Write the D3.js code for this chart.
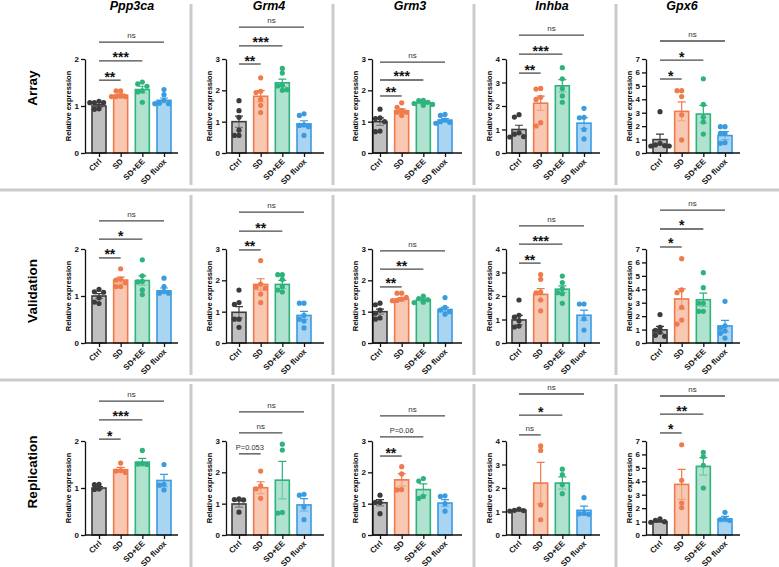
<!DOCTYPE html>
<html>
<head>
<meta charset="utf-8">
<script src="https://cdn.jsdelivr.net/npm/d3@7"></script>
<style>
  body { margin: 0; background: #fff; }
  svg { display: block; font-family: "Liberation Sans", Arial, sans-serif; }
</style>
</head>
<body>
<svg id="chart" width="779" height="567"></svg>
<script>
'use strict';
// categories
const genes = ['Ppp3ca', 'Grm4', 'Grm3', 'Inhba', 'Gpx6'];
const groups = ['Ctrl', 'SD', 'SD+EE', 'SD fluox'];
const rowNames = ['Array', 'Validation', 'Replication'];
const yMax = [2, 3, 3, 4, 7];

// Array row: means, sem, points, stars, bracket levels (data units)
const arrayMean = [[1.0, 1.23, 1.35, 1.12], [1.0, 1.81, 2.24, 0.93], [1.0, 1.35, 1.6, 1.05], [1.0, 2.12, 2.86, 1.27], [1.0, 3.1, 2.9, 1.3]];
const arraySem = [[0.03, 0.03, 0.07, 0.05], [0.18, 0.18, 0.12, 0.1], [0.12, 0.06, 0.03, 0.05], [0.18, 0.3, 0.26, 0.23], [0.4, 0.7, 0.65, 0.3]];
const arrayDots = [
  [[1.1, 1.07, 1.07, 1.07, 0.94, 0.93], [1.32, 1.32, 1.2, 1.2, 1.2, 1.21], [1.51, 1.47, 1.42, 1.32, 1.3, 1.08], [1.35, 1.24, 1.12, 1.06, 1.05, 1.05]],
  [[1.67, 1.35, 1.14, 0.73, 0.56, 0.56], [2.4, 1.97, 1.93, 1.71, 1.52, 1.29], [2.7, 2.55, 2.16, 2.14, 2.02, 2.0], [1.25, 1.2, 0.9, 0.88, 0.84, 0.56]],
  [[1.4, 1.12, 1.1, 1.0, 0.7, 0.68], [1.6, 1.46, 1.35, 1.3, 1.3, 1.2], [1.68, 1.67, 1.62, 1.58, 1.55, 1.52], [1.23, 1.2, 1.05, 1.0, 0.98, 0.95]],
  [[1.63, 1.53, 0.86, 0.8, 0.7, 0.68], [2.75, 2.72, 2.37, 2.28, 1.29, 1.15], [3.63, 3.16, 2.74, 2.43, 2.16], [1.9, 1.52, 1.5, 1.0, 0.6]],
  [[3.08, 0.72, 0.6, 0.55, 0.52, 0.52], [4.64, 4.64, 4.2, 2.85, 0.97], [5.53, 3.62, 2.66, 2.31, 1.41], [1.96, 1.96, 1.47, 1.47, 0.77, 0.72]]
];
const arrayStars = [['**', '***', 'ns'], ['**', '***', 'ns'], ['**', '***', 'ns'], ['**', '***', 'ns'], ['*', '*', 'ns']];
const arrayLevels = [[1.55, 1.96, 2.36], [2.84, 3.42, 4.02], [1.82, 2.33, 2.9], [3.4, 4.21, 5.02], [5.51, 6.92, 8.34]];

// Validation row
const validationMean = [[1.0, 1.34, 1.33, 1.11], [0.98, 1.87, 1.87, 0.88], [1.0, 1.4, 1.38, 1.07], [0.98, 2.07, 2.29, 1.18], [0.98, 3.28, 3.22, 1.27]];
const validationSem = [[0.05, 0.06, 0.1, 0.06], [0.18, 0.18, 0.13, 0.13], [0.08, 0.05, 0.05, 0.07], [0.2, 0.24, 0.14, 0.22], [0.26, 0.75, 0.5, 0.42]];
const validationDots = [
  [[1.14, 1.09, 1.08, 0.96, 0.87, 0.84], [1.58, 1.36, 1.34, 1.28, 1.2, 1.2], [1.77, 1.43, 1.31, 1.3, 1.13, 1.03], [1.38, 1.2, 1.1, 1.06, 1.06]],
  [[1.69, 1.29, 1.23, 0.76, 0.76, 0.5], [2.63, 1.88, 1.78, 1.75, 1.56, 1.29], [2.18, 2.18, 2.03, 1.8, 1.69, 1.63], [1.27, 1.27, 0.88, 0.76, 0.7, 0.48]],
  [[1.27, 1.22, 1.05, 0.95, 0.8, 0.76], [1.59, 1.59, 1.46, 1.4, 1.36, 1.35], [1.5, 1.42, 1.38, 1.3, 1.29], [1.45, 1.14, 1.05, 1.0, 0.92]],
  [[1.83, 1.18, 1.1, 0.95, 0.72, 0.68], [2.91, 2.71, 2.17, 2.13, 1.83, 1.37], [2.85, 2.57, 2.31, 2.14, 2.1, 1.69], [1.66, 1.66, 1.03, 0.55]],
  [[2.12, 1.17, 0.95, 0.8, 0.57, 0.5], [6.28, 3.95, 3.75, 2.66, 1.71, 1.41], [5.24, 4.12, 2.96, 2.96, 2.36, 2.36], [3.1, 1.27, 1.1, 0.9, 0.72, 0.37]]
];
const validationStars = [['**', '*', 'ns'], ['**', '**', 'ns'], ['**', '**', 'ns'], ['**', '***', 'ns'], ['*', '*', 'ns']];
const validationLevels = [[1.81, 2.21, 2.6], [2.97, 3.57, 4.18], [1.79, 2.36, 2.94], [3.4, 4.21, 4.98], [7.15, 8.49, 9.9]];

// Replication row
const replicationMean = [[1.0, 1.39, 1.55, 1.16], [0.99, 1.51, 1.75, 0.96], [1.03, 1.76, 1.45, 1.02], [1.05, 2.21, 2.21, 1.05], [0.99, 3.77, 5.11, 1.19]];
const replicationSem = [[0.03, 0.05, 0.08, 0.13], [0.1, 0.19, 0.6, 0.2], [0.1, 0.2, 0.18, 0.11], [0.04, 0.88, 0.26, 0.18], [0.06, 1.12, 0.65, 0.2]];
const replicationDots = [
  [[1.08, 1.07, 0.98, 0.97], [1.53, 1.37, 1.36, 1.33], [1.8, 1.52, 1.51, 1.5], [1.5, 1.08, 1.06, 0.96]],
  [[1.15, 1.13, 1.12, 0.73], [2.04, 1.57, 1.47, 1.17], [2.9, 2.71, 0.72, 0.7], [1.3, 1.27, 0.89, 0.49]],
  [[1.27, 1.04, 1.04, 0.68], [2.18, 1.95, 1.45, 1.44], [1.8, 1.72, 1.23, 1.17], [1.25, 1.23, 1.0, 0.76]],
  [[1.1, 1.05, 1.04, 1.02], [3.79, 3.6, 1.28, 0.65], [2.8, 2.57, 2.14, 1.76], [1.59, 0.92, 0.9, 0.88]],
  [[1.21, 1.1, 0.99, 0.95], [6.72, 4.07, 2.38, 2.03], [6.16, 5.83, 5.19, 3.5], [1.69, 1.2, 1.15, 1.09]]
];
const replicationStars = [['*', '***', 'ns'], ['P=0.053', 'ns', 'ns'], ['**', 'P=0.06', 'ns'], ['ns', '*', 'ns'], ['*', '**', 'ns']];
const replicationLevels = [[2.04, 2.45, 2.85], [2.59, 3.26, 3.93], [2.52, 3.13, 3.8], [4.26, 5.1, 6.0], [7.6, 9.0, 10.35]];

const rows = [
  {mean: arrayMean, sem: arraySem, dots: arrayDots, stars: arrayStars, levels: arrayLevels},
  {mean: validationMean, sem: validationSem, dots: validationDots, stars: validationStars, levels: validationLevels},
  {mean: replicationMean, sem: replicationSem, dots: replicationDots, stars: replicationStars, levels: replicationLevels}
];

// Layout
const colAxisX = [85, 226, 372, 506, 646];
const colFirstX = [99, 239, 380, 519, 660];
const colAxisEnd = [178, 324, 462, 600, 740];
const colTitleX = [132, 269, 410, 552, 682];
const rowZeroY = [153, 343, 535];
const rowLabelY = [88, 291, 472];
const plotH = 94;
const groupSpan = 65;
const barW = 14;
const dotR = 2.6;

const fills = ['#c0c0c0', '#f8c8b2', '#afe2cf', '#a9d5f2'];
const strokes = ['#3c3c3c', '#ef7a4c', '#2db37b', '#3a9be0'];
const font = '"Liberation Sans", Arial, sans-serif';

const svg = d3.select('#chart');

// Separators
const sepColor = '#cbcbcb';
[190, 380].forEach(yy => svg.append('line')
  .attr('x1', 0).attr('x2', 779).attr('y1', yy).attr('y2', yy)
  .attr('stroke', sepColor).attr('stroke-width', 3));
const rowSpans = [[4, 185], [195, 375], [384, 567]];
[191, 333, 474, 616].forEach(xx => rowSpans.forEach(([a, b]) => svg.append('line')
  .attr('x1', xx).attr('x2', xx).attr('y1', a).attr('y2', b)
  .attr('stroke', sepColor).attr('stroke-width', 3)));

// Titles
genes.forEach((gene, gi) => svg.append('text')
  .attr('x', colTitleX[gi]).attr('y', 10)
  .attr('text-anchor', 'middle')
  .attr('font-size', 12.5).attr('font-weight', 'bold').attr('font-style', 'italic')
  .text(gene));

rowNames.forEach((name, ri) => svg.append('text')
  .attr('transform', `translate(37,${rowLabelY[ri]}) rotate(-90)`)
  .attr('text-anchor', 'middle')
  .attr('font-size', 13.5).attr('font-weight', 'bold')
  .text(name));

// simple beeswarm so overlapping points sit side by side (a little overlap allowed)
function swarm(values, y, cx) {
  const placed = [];
  const step = 4.6;
  values.slice().sort((a, b) => b - a).forEach(v => {
    const py = y(v);
    for (let k = 0; k < 12; k++) {
      const off = k === 0 ? 0 : (k % 2 ? -1 : 1) * Math.ceil(k / 2) * step;
      const px = cx + off;
      if (k === 11 || placed.every(p => Math.hypot(p.x - px, p.y - py) >= 4.4)) {
        placed.push({x: px, y: py});
        break;
      }
    }
  });
  return placed;
}

rows.forEach((row, ri) => genes.forEach((gene, gi) => {
  const y0 = rowZeroY[ri];
  const y = d3.scaleLinear().domain([0, yMax[gi]]).range([y0, y0 - plotH]);
  const x = d3.scalePoint().domain(groups).range([colFirstX[gi], colFirstX[gi] + groupSpan]);
  const g = svg.append('g');

  // bars
  g.selectAll('rect').data(groups).enter().append('rect')
    .attr('x', d => x(d) - barW / 2)
    .attr('y', (d, i) => y(row.mean[gi][i]))
    .attr('width', barW)
    .attr('height', (d, i) => y(0) - y(row.mean[gi][i]))
    .attr('fill', (d, i) => fills[i])
    .attr('stroke', (d, i) => strokes[i])
    .attr('stroke-width', 1.6);

  // error bars (mean +/- SEM)
  groups.forEach((grp, i) => {
    const m = row.mean[gi][i], s = row.sem[gi][i], cx = x(grp);
    const eb = g.append('g').attr('stroke', strokes[i]).attr('stroke-width', 1.2).attr('fill', 'none');
    eb.append('path').attr('d', `M${cx},${y(m)}V${y(m + s)}M${cx - 4},${y(m + s)}H${cx + 4}`);
    eb.append('path').attr('opacity', 0.5)
      .attr('d', `M${cx},${y(m)}V${y(m - s)}M${cx - 4},${y(m - s)}H${cx + 4}`);
  });

  // points
  groups.forEach((grp, i) => {
    g.append('g').selectAll('circle').data(swarm(row.dots[gi][i], y, x(grp))).enter().append('circle')
      .attr('cx', d => d.x).attr('cy', d => d.y).attr('r', dotR)
      .attr('fill', strokes[i]);
  });

  // y axis
  const ya = g.append('g').attr('transform', `translate(${colAxisX[gi]},0)`)
    .call(d3.axisLeft(y).tickValues(d3.range(0, yMax[gi] + 1)).tickFormat(d3.format('d'))
      .tickSize(4).tickSizeOuter(0).tickPadding(2));
  ya.selectAll('path, line').attr('stroke', '#111').attr('stroke-width', 1.3);
  ya.selectAll('text').attr('font-size', 8).attr('font-weight', 'bold').attr('fill', '#111')
    .attr('font-family', font);

  // x axis
  const xa = g.append('g').attr('transform', `translate(0,${y0})`)
    .call(d3.axisBottom(x).tickSize(4).tickSizeOuter(0));
  xa.select('.domain').remove();
  xa.append('line').attr('x1', colAxisX[gi]).attr('x2', colAxisEnd[gi])
    .attr('stroke', '#111').attr('stroke-width', 1.3);
  xa.selectAll('.tick line').attr('stroke', '#111').attr('stroke-width', 1.3);
  xa.selectAll('.tick text')
    .attr('font-size', 8).attr('font-weight', 'bold').attr('fill', '#111')
    .attr('font-family', font)
    .attr('text-anchor', 'end').attr('dy', null).attr('y', 0)
    .attr('transform', 'translate(2.5,9) rotate(-45)');

  // axis title
  g.append('text')
    .attr('transform', `translate(${colAxisX[gi] - 14},${y0 - plotH / 2}) rotate(-90)`)
    .attr('text-anchor', 'middle').attr('font-size', 7.5).attr('font-weight', 'bold')
    .text('Relative expression');

  // significance brackets
  row.levels[gi].forEach((lv, k) => {
    const x1 = x(groups[0]), x2 = x(groups[k + 1]), yy = y(lv);
    g.append('line').attr('x1', x1).attr('x2', x2).attr('y1', yy).attr('y2', yy)
      .attr('stroke', '#4a4a4a').attr('stroke-width', 1.3);
    const lab = row.stars[gi][k];
    const isStar = lab.startsWith('*');
    g.append('text')
      .attr('x', (x1 + x2) / 2).attr('y', isStar ? yy + 1.5 : yy - 4)
      .attr('text-anchor', 'middle')
      .attr('font-size', isStar ? 14 : (lab === 'ns' ? 8 : 7.5))
      .attr('font-weight', isStar ? 'bold' : 'normal')
      .attr('fill', isStar ? '#111' : '#333')
      .text(lab);
  });
}));
</script>
</body>
</html>
